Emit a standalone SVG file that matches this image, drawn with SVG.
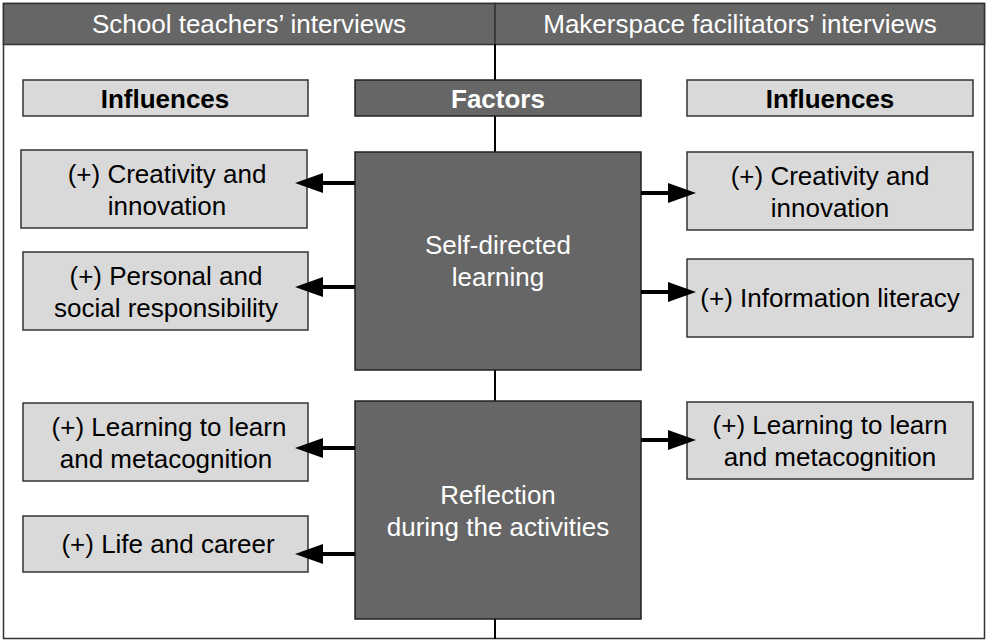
<svg xmlns="http://www.w3.org/2000/svg" width="992" height="643" viewBox="0 0 992 643">
<defs>
<style>
.frame{fill:#fff;stroke:#333;stroke-width:1.5}
.hdr{fill:#666;stroke:#333;stroke-width:1.5}
.lt{fill:#d9d9d9;stroke:#333;stroke-width:1.5}
.dk{fill:#666;stroke:#222;stroke-width:1.5}
.t{font-family:"Liberation Sans",Arial,sans-serif;font-size:26px;text-anchor:middle;fill:#000}
.tw{font-family:"Liberation Sans",Arial,sans-serif;font-size:26px;text-anchor:middle;fill:#fff}
.h{font-family:"Liberation Sans",Arial,sans-serif;font-size:26px;text-anchor:middle;fill:#fff}
.b{font-family:"Liberation Sans",Arial,sans-serif;font-size:26px;font-weight:bold;text-anchor:middle}
.conn{stroke:#000;stroke-width:4;fill:none}
.head{fill:#000;stroke:none}
.vl{stroke:#000;stroke-width:2;fill:none}
</style>
</defs>
<rect class="frame" x="3.5" y="3.5" width="981" height="635"/>
<g id="header-left"><rect class="hdr" x="3.5" y="3.5" width="491.5" height="41"/><text class="h" x="249" y="33">School teachers’ interviews</text></g>
<g id="header-right"><rect class="hdr" x="495" y="3.5" width="489.5" height="41"/><text class="h" x="740" y="33">Makerspace facilitators’ interviews</text></g>
<g id="divider"><line class="vl" x1="495" y1="44" x2="495" y2="639"/></g>
<g id="influences-left"><rect class="lt" x="23" y="80" width="285" height="36"/><text class="b" x="165" y="108">Influences</text></g>
<g id="factors"><rect class="dk" x="355" y="80" width="286" height="36"/><text class="b" x="498" y="108" fill="#fff">Factors</text></g>
<g id="influences-right"><rect class="lt" x="687" y="80" width="286" height="36"/><text class="b" x="830" y="108">Influences</text></g>
<g id="self-directed"><rect class="dk" x="355" y="152" width="286" height="218"/><text class="tw" x="498" y="254">Self-directed</text><text class="tw" x="498" y="286">learning</text></g>
<g id="reflection"><rect class="dk" x="355" y="401" width="286" height="218"/><text class="tw" x="498" y="504">Reflection</text><text class="tw" x="498" y="536">during the activities</text></g>
<g id="l-creativity"><rect class="lt" x="21" y="150" width="286" height="78"/><text class="t" x="167" y="183">(+) Creativity and</text><text class="t" x="167" y="215">innovation</text></g>
<g id="l-personal"><rect class="lt" x="23" y="252" width="285" height="78"/><text class="t" x="166" y="285">(+) Personal and</text><text class="t" x="166" y="317">social responsibility</text></g>
<g id="l-learning"><rect class="lt" x="23" y="403" width="285" height="78"/><text class="t" x="169" y="436">(+) Learning to learn</text><text class="t" x="166" y="468">and metacognition</text></g>
<g id="l-life"><rect class="lt" x="23" y="516" width="285" height="56"/><text class="t" x="168" y="553">(+) Life and career</text></g>
<g id="r-creativity"><rect class="lt" x="687" y="152" width="286" height="78"/><text class="t" x="830" y="185">(+) Creativity and</text><text class="t" x="830" y="217">innovation</text></g>
<g id="r-info"><rect class="lt" x="687" y="259" width="286" height="78"/><text class="t" x="830" y="307">(+) Information literacy</text></g>
<g id="r-learning"><rect class="lt" x="687" y="402" width="286" height="77"/><text class="t" x="830" y="434">(+) Learning to learn</text><text class="t" x="830" y="466">and metacognition</text></g>
<g id="connectors">
<line class="conn" x1="355" y1="183" x2="320" y2="183"/><polygon class="head" points="295,183 323,173 323,193"/>
<line class="conn" x1="355" y1="287" x2="320" y2="287"/><polygon class="head" points="295,287 323,277 323,297"/>
<line class="conn" x1="355" y1="448" x2="320" y2="448"/><polygon class="head" points="295,448 323,438 323,458"/>
<line class="conn" x1="355" y1="554" x2="320" y2="554"/><polygon class="head" points="295,554 323,544 323,564"/>
<line class="conn" x1="641" y1="193" x2="671" y2="193"/><polygon class="head" points="696,193 668,183 668,203"/>
<line class="conn" x1="641" y1="292" x2="671" y2="292"/><polygon class="head" points="696,292 668,282 668,302"/>
<line class="conn" x1="641" y1="440" x2="671" y2="440"/><polygon class="head" points="696,440 668,430 668,450"/>
</g>
</svg>
